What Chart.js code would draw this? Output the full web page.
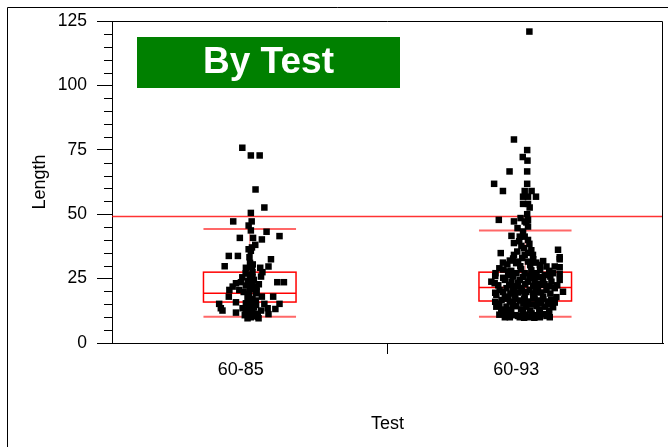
<!DOCTYPE html>
<html>
<head>
<meta charset="utf-8">
<title>Length by Test</title>
<script src="https://cdn.jsdelivr.net/npm/chart.js@4.4.1/dist/chart.umd.min.js"></script>
<style>
  html, body { margin: 0; padding: 0; background: #fff; }
</style>
</head>
<body>
<canvas id="chart" width="668" height="447"></canvas>
<script>
// groups on the x axis
const categories = ["60-85", "60-93"];

// [jitter in thousandths of a category, length]
const test6085 = [
  [-27, 75.8], [4, 72.8], [36, 72.8], [21, 59.6], [53, 52.6], [4, 50.5],
  [-60, 47.2], [7, 47.2], [-4, 45.6], [4, 43.7], [61, 43.2], [108, 41.5],
  [-36, 40.8], [12, 40.8], [44, 40.2], [20, 38.1], [8, 37.1], [-4, 36.4],
  [4, 35.8], [-76, 33.8], [-43, 33.8], [-1, 33.3], [77, 32.5], [-91, 29.8],
  [1, 31.1], [8, 29.5], [38, 29.2], [68, 29.7], [-14, 29.2], [10, 27.5],
  [46, 27.5], [-27, 25.5], [10, 25.5], [41, 25.8], [100, 23.6], [124, 23.6],
  [-50, 23.2], [-32, 23.6], [-14, 22.3], [10, 22.6], [-62, 21.9], [25, 21.9],
  [-38, 20.6], [1, 20.9], [-74, 20.6], [-2, 19.1], [23, 19.3], [-76, 18.0],
  [44, 18.0], [85, 18.0], [-8, 17.4], [10, 17.0], [-50, 15.8], [-14, 15.4],
  [-111, 15.2], [53, 15.2], [108, 15.2], [-2, 14.5], [23, 14.8], [-105, 13.5],
  [-26, 13.5], [65, 13.5], [93, 13.2], [-99, 12.6], [-8, 12.8], [10, 12.6],
  [41, 12.6], [-50, 11.8], [-2, 11.5], [28, 11.3], [68, 11.2], [4, 10.0],
  [32, 9.6], [-8, 9.6], [16, 10.5],
  [0, 26.5], [15, 24.5], [-7, 24.0], [18, 21.0], [-4, 18.5], [11, 16.0],
  [22, 16.5], [-15, 13.0], [15, 13.8], [29, 10.2], [-18, 10.8], [7, 15.8],
  [25, 20.0], [-15, 27.0], [11, 30.5], [33, 22.8], [-22, 19.8], [0, 23.0]
];

const test6093 = [
  [15, 120.9], [-41, 79.0], [7, 74.9], [-9, 72.2], [8, 70.8], [-57, 66.6],
  [7, 66.6], [-113, 61.8], [7, 61.8], [-81, 59.0], [-2, 59.0], [23, 59.0],
  [-8, 56.8], [10, 56.8], [39, 56.8], [-8, 54.0], [10, 54.0], [16, 52.6],
  [7, 50.0], [-17, 48.5], [-96, 47.8], [-41, 47.2], [-2, 47.2], [10, 47.8],
  [4, 46.8], [10, 45.2], [-28, 44.6], [-8, 43.3], [-50, 41.6], [-20, 41.3],
  [-2, 41.3], [10, 40.0], [-41, 38.8], [-14, 37.7], [119, 36.2], [-89, 34.9],
  [-41, 34.2], [-2, 34.2], [28, 34.2], [125, 33.3], [125, 32.5], [-56, 32.0],
  [-81, 31.2], [-26, 31.6], [10, 31.6], [53, 30.3], [77, 29.7], [107, 29.7],
  [125, 29.4], [-108, 27.1], [-62, 26.4], [-32, 27.1], [-2, 27.1], [41, 27.1],
  [71, 26.4], [101, 27.1], [125, 26.8], [-123, 23.8], [-111, 23.2], [-74, 24.5],
  [-50, 23.8], [-20, 24.5], [10, 23.8], [34, 24.5], [65, 24.5], [95, 23.8],
  [125, 24.5], [-93, 20.6], [-68, 21.3], [-44, 20.6], [-14, 21.3], [16, 20.6],
  [46, 21.3], [77, 20.6], [107, 21.3], [137, 19.9], [-105, 18.7], [-74, 18.0],
  [-38, 18.7], [-2, 18.0], [34, 18.7], [65, 18.0], [113, 17.8], [-86, 16.7],
  [-56, 16.1], [-20, 16.5], [10, 16.1], [46, 16.5], [83, 16.1], [107, 15.7],
  [-105, 14.1], [-68, 14.1], [-32, 14.3], [4, 14.1], [41, 14.3], [71, 14.1],
  [101, 13.9], [-56, 11.5], [-26, 10.5], [-8, 12.2], [23, 11.5], [53, 11.8],
  [77, 10.5], [-74, 10.0], [-56, 10.0], [-20, 10.0], [16, 10.0], [53, 10.0],
  [89, 10.0],
  [-22, 39.5], [15, 38.5], [-4, 36.8], [22, 36.0], [-29, 35.5], [11, 35.0],
  [-44, 32.8], [-11, 33.0], [29, 32.5], [65, 31.8], [-65, 30.5], [-18, 29.8],
  [18, 30.2], [-94, 29.0], [-80, 28.5], [-51, 28.0], [-15, 28.6], [22, 28.2],
  [54, 28.4], [87, 28.0], [-109, 26.0], [-44, 25.8], [15, 26.0], [54, 25.6],
  [91, 25.8], [-98, 22.4], [-58, 22.6], [-29, 22.0], [0, 22.8], [29, 22.2],
  [58, 22.6], [87, 22.0], [116, 22.4], [-80, 25.3], [22, 25.2], [-109, 19.5],
  [-80, 19.8], [-54, 19.2], [-25, 19.6], [4, 19.8], [29, 19.2], [58, 19.6],
  [91, 19.2], [-109, 16.0], [-69, 17.2], [-36, 17.2], [-4, 17.0], [29, 17.4],
  [65, 17.0], [94, 16.8], [-94, 15.2], [-44, 15.0], [-7, 15.3], [25, 15.0],
  [58, 15.4], [87, 15.0], [-87, 13.0], [-51, 12.8], [-15, 13.0], [18, 12.6],
  [51, 13.0], [87, 12.5], [-73, 12.0], [0, 11.0], [-36, 10.8], [0, 10.6],
  [36, 10.8], [69, 11.2], [-94, 11.0], [33, 9.8], [-4, 9.8],
  [-33, 31.0], [40, 31.2], [-8, 25.6], [36, 26.4], [-60, 27.8], [-26, 23.4],
  [44, 23.0], [-40, 21.8], [70, 22.8], [-12, 20.2], [40, 19.9], [-62, 17.6]
];

// quantile boxes per group
const q10 = [10.2, 10.2];
const q25 = [15.9, 16.3];
const median = [19.3, 21.5];
const q75 = [27.5, 27.5];
const q90 = [44.3, 43.7];

const refLength = 49.1;
const yLabels = [0, 25, 50, 75, 100, 125];

const FONT = '"Liberation Sans", Arial, Helvetica, sans-serif';
const BOX_HALF = 0.168;

function toPoints(rows, group) {
  return rows.map(r => ({ x: group + 0.5 + r[0] / 1000, y: r[1] }));
}

// frames round the report and the plot
const framePlugin = {
  id: 'frames',
  afterDraw(chart) {
    const ctx = chart.ctx;
    const a = chart.chartArea;
    ctx.save();
    ctx.strokeStyle = '#000';
    ctx.lineWidth = 1;
    ctx.beginPath();
    ctx.moveTo(7.5, chart.height);
    ctx.lineTo(7.5, 7.5);
    ctx.lineTo(chart.width, 7.5);
    ctx.stroke();
    ctx.beginPath();
    ctx.moveTo(a.left, a.top + 0.5);
    ctx.lineTo(a.right - 0.5, a.top + 0.5);
    ctx.lineTo(a.right - 0.5, a.bottom);
    ctx.stroke();

    // minor ticks on the length axis
    const y = chart.scales.y;
    ctx.beginPath();
    y.ticks.forEach(t => {
      if (t.value % 25 === 0) return;
      const py = Math.round(y.getPixelForValue(t.value)) + 0.5;
      ctx.moveTo(a.left - 8, py);
      ctx.lineTo(a.left, py);
    });
    ctx.stroke();

    // "By Test" banner
    const bx = a.left + 25, by = a.top + 16, bw = 263, bh = 51;
    ctx.fillStyle = '#008000';
    ctx.fillRect(bx, by, bw, bh);
    ctx.fillStyle = '#fff';
    ctx.font = 'bold 37px ' + FONT;
    ctx.textAlign = 'center';
    ctx.textBaseline = 'middle';
    ctx.fillText('By Test', bx + bw / 2, by + bh / 2);
    ctx.restore();
  }
};

// quantile boxes under the points
const boxPlugin = {
  id: 'quantileBoxes',
  beforeDatasetsDraw(chart) {
    const ctx = chart.ctx;
    const xs = chart.scales.x, ys = chart.scales.y;
    ctx.save();
    categories.forEach((c, i) => {
      const l = xs.getPixelForValue(i + 0.5 - BOX_HALF);
      const r = xs.getPixelForValue(i + 0.5 + BOX_HALF);
      const cx = xs.getPixelForValue(i + 0.5);
      const p10 = ys.getPixelForValue(q10[i]);
      const p25 = ys.getPixelForValue(q25[i]);
      const p50 = ys.getPixelForValue(median[i]);
      const p75 = ys.getPixelForValue(q75[i]);
      const p90 = ys.getPixelForValue(q90[i]);

      ctx.strokeStyle = 'rgba(255,0,0,0.45)';
      ctx.lineWidth = 1;
      ctx.beginPath();
      ctx.moveTo(cx, p90); ctx.lineTo(cx, p75);
      ctx.moveTo(cx, p25); ctx.lineTo(cx, p10);
      ctx.stroke();

      ctx.strokeStyle = 'rgba(255,40,40,0.7)';
      ctx.lineWidth = 2;
      ctx.beginPath();
      ctx.moveTo(l, p90); ctx.lineTo(r, p90);
      ctx.moveTo(l, p10); ctx.lineTo(r, p10);
      ctx.stroke();

      ctx.strokeStyle = '#ff0000';
      ctx.lineWidth = 1.5;
      ctx.strokeRect(l, p75, r - l, p25 - p75);
      ctx.beginPath();
      ctx.moveTo(l, p50); ctx.lineTo(r, p50);
      ctx.stroke();
    });
    ctx.restore();
  }
};

const pointStyle = {
  type: 'scatter',
  pointStyle: 'rect',
  pointRadius: 4.6,
  pointHoverRadius: 4.6,
  backgroundColor: '#000',
  borderWidth: 0,
  order: 0
};

new Chart(document.getElementById('chart'), {
  type: 'scatter',
  data: {
    datasets: [
      Object.assign({ label: categories[0], data: toPoints(test6085, 0) }, pointStyle),
      Object.assign({ label: categories[1], data: toPoints(test6093, 1) }, pointStyle),
      {
        type: 'line',
        label: 'reference',
        data: [{ x: 0, y: refLength }, { x: categories.length, y: refLength }],
        borderColor: 'rgba(255,0,0,0.8)',
        borderWidth: 1.5,
        pointRadius: 0,
        order: 1
      }
    ]
  },
  options: {
    responsive: false,
    animation: false,
    events: [],
    layout: { padding: { left: 8, top: 21, right: 4, bottom: 0 } },
    plugins: { legend: { display: false }, tooltip: { enabled: false } },
    scales: {
      x: {
        type: 'linear',
        min: 0,
        max: categories.length,
        afterFit(s) { s.height = 104; },
        ticks: {
          stepSize: 0.5,
          autoSkip: false,
          maxRotation: 0,
          labelOffset: -9,
          padding: 5,
          color: '#000',
          font: { family: FONT, size: 18 },
          callback(v) {
            const k = v - 0.5;
            return Number.isInteger(k) ? categories[k] : '';
          }
        },
        grid: {
          drawOnChartArea: false,
          tickLength: 11,
          tickColor: c => (c.tick && Number.isInteger(c.tick.value) && c.tick.value > 0 && c.tick.value < categories.length) ? '#000' : 'rgba(0,0,0,0)'
        },
        border: { color: '#000', width: 1 },
        title: {
          display: true,
          text: 'Test',
          color: '#000',
          font: { family: FONT, size: 18 },
          padding: { top: 0, bottom: 12 }
        }
      },
      y: {
        min: 0,
        max: 125,
        afterFit(s) { s.width = 104; },
        ticks: {
          stepSize: 5,
          autoSkip: false,
          padding: 10,
          color: '#000',
          font: { family: FONT, size: 17.5 },
          callback: v => yLabels.includes(v) ? String(v) : ''
        },
        grid: {
          drawOnChartArea: false,
          tickLength: 15,
          tickColor: c => (c.tick && yLabels.includes(c.tick.value)) ? '#000' : 'rgba(0,0,0,0)'
        },
        border: { color: '#000', width: 1 },
        title: {
          display: true,
          text: 'Length',
          color: '#000',
          font: { family: FONT, size: 18 },
          padding: { top: 21, bottom: 0 }
        }
      }
    }
  },
  plugins: [boxPlugin, framePlugin]
});
</script>
</body>
</html>
